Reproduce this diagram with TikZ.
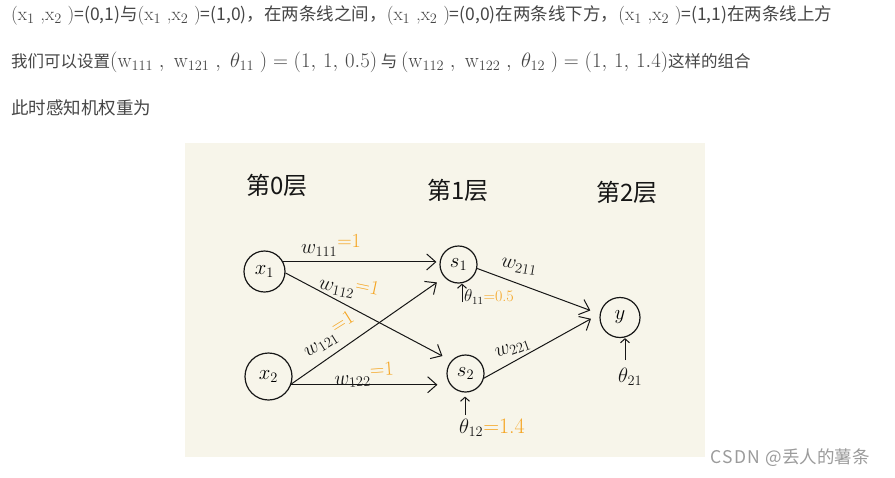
\documentclass[tikz,border=0pt]{standalone}
\usepackage{fontspec}
\newfontfamily\cjk{Noto Sans CJK SC}
\usetikzlibrary{arrows.meta}

\definecolor{paper}{RGB}{247,245,234}
\definecolor{ink}{RGB}{22,22,22}
\definecolor{marker}{RGB}{245,164,32}
\definecolor{bodytext}{RGB}{70,70,70}
\definecolor{wmgray}{RGB}{155,155,155}

\newcommand{\xpair}{{\rmfamily\fontsize{19}{19}\selectfont(x$_1$\ ,x$_2$\ )}}
\newcommand{\bigmath}[1]{{\fontsize{21}{21}\selectfont$#1$}}

\tikzset{
  neuron/.style={circle, draw=ink, line width=1.2pt, inner sep=0pt,
                 minimum size=#1, font=\fontsize{20}{20}\selectfont},
  neuron/.default=40pt,
  syn/.style={draw=ink, line width=1pt,
              -{Straight Barb[length=9pt,width=16pt,line width=1pt]}},
  bias/.style={draw=ink, line width=1pt,
               -{Straight Barb[length=4pt,width=9pt,line width=1pt]}},
  layer/.style={font=\cjk\fontsize{24}{24}\selectfont, text=ink},
  weight/.style={font=\fontsize{20}{20}\selectfont, text=ink, inner sep=1pt},
  prose/.style={anchor=west, inner sep=0pt, text=bodytext,
                font=\cjk\fontsize{17.5}{17.5}\selectfont},
}

\begin{document}
\begin{tikzpicture}[x=1pt, y=-1pt]
  \fill[white] (0,0) rectangle (895,477);
  \useasboundingbox (0,0) rectangle (895,477);

  % text above the sketch
  \node[prose] (line1) at (11,15)
    {\xpair=(0,1)与\xpair=(1,0)，在两条线之间，\xpair=(0,0)在两条线下方，\xpair=(1,1)在两条线上方};
  \node[prose, font=\cjk\fontsize{16.5}{16.5}\selectfont] (line2) at (11,62)
    {我们可以设置\bigmath{(\mathrm{w}_{111}\;,\;\mathrm{w}_{121}\;,\;\theta_{11}\;)=(1,\,1,\,0.5)} 与
     \bigmath{(\mathrm{w}_{112}\;,\;\mathrm{w}_{122}\;,\;\theta_{12}\;)=(1,\,1,\,1.4)}这样的组合};
  \node[prose] (line3) at (11,108) {此时感知机权重为};

  % the paper
  \fill[paper] (185,143) rectangle (705,457);

  % layer titles
  \node[layer] (L0) at (277,185) {第0层};
  \node[layer] (L1) at (458,190) {第1层};
  \node[layer] (L2) at (627,192) {第2层};

  % neurons
  \node[neuron=41pt] (x1) at (264.5,271.5) {$x_1$};
  \node[neuron=47pt] (x2) at (268.5,376.5) {$x_2$};
  \node[neuron=37pt] (s1) at (458.5,264.5) {$s_1$};
  \node[neuron=37pt] (s2) at (465.5,373.5) {$s_2$};
  \node[neuron=40pt] (y)  at (620,317.5)   {$y$};

  % layer 0 -> layer 1
  \draw[syn, shorten >=3pt] (x1.27) -- (x1.27 -| s1.west);
  \draw[syn, shorten >=10pt] (x1.-4) -- (s2.138);
  \draw[syn, shorten >=9pt] (x2.-18) -- (s1.222);
  \draw[syn, shorten >=9pt] (x2.-20) -- (x2.-20 -| s2.west);

  % layer 1 -> layer 2
  \draw[syn, shorten >=10pt] (s1.-12) -- (y.170);
  \draw[syn, shorten >=10pt] (s2.-14) -- (y.170);

  % weights
  \node[weight] (w111) at (331,245) {$w_{111}$\raisebox{6pt}{\textcolor{marker}{=1}}};
  \node[weight, rotate=-12] (w112) at (349,287) {$w_{112}$\raisebox{6pt}{\textcolor{marker}{=1}}};
  \node[weight, rotate=32] (w121) at (329,335) {$w_{121}$\raisebox{6pt}{\textcolor{marker}{=1}}};
  \node[weight, rotate=4] (w122) at (364,375) {$w_{122}$\raisebox{6pt}{\textcolor{marker}{=1}}};
  \node[weight, rotate=-10] (w211) at (519,267) {$w_{211}$};
  \node[weight, rotate=20] (w221) at (513,349) {$w_{221}$};

  % thresholds
  \coordinate (b11) at (462,302);
  \draw[bias] (b11) -- (b11 |- s1.south);
  \node[weight, anchor=west, font=\fontsize{16}{16}\selectfont] (t11) at (463,297)
    {$\theta_{11}$\textcolor{marker}{=0.5}};

  \coordinate (b12) at (465,415);
  \draw[bias, shorten >=4pt] (b12) -- (b12 |- s2.south);
  \node[weight, anchor=west, font=\fontsize{22}{22}\selectfont] (t12) at (458,428)
    {$\theta_{12}$\textcolor{marker}{=1.4}};

  \coordinate (b21) at (625,360);
  \draw[bias] (b21) -- (b21 |- y.south);
  \node[weight, anchor=west, font=\fontsize{22}{22}\selectfont] (t21) at (617,377)
    {$\theta_{21}$};

  % watermark
  \node[anchor=west, inner sep=0pt, text=wmgray, font=\cjk\fontsize{17.5}{17.5}\selectfont]
    (wm) at (710,458) {{\addfontfeatures{LetterSpace=8}CSDN @}丢人的薯条};
\end{tikzpicture}
\end{document}
